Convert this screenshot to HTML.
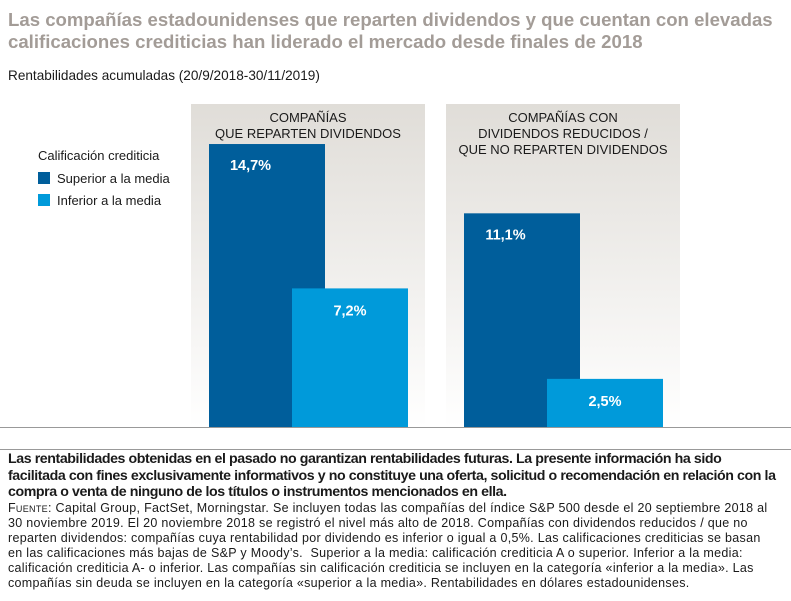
<!DOCTYPE html>
<html><head><meta charset="utf-8"><style>
body{margin:0;width:791px;height:601px;background:#fff;overflow:hidden;font-family:"Liberation Sans",sans-serif}
svg{position:absolute;left:0;top:0}
.foot{position:absolute;left:8px;top:451px;width:783px;color:#1a1a1a}
.disc{font-size:14.2px;line-height:16.5px;font-weight:bold;letter-spacing:-0.42px;white-space:nowrap}
.src{font-size:12.5px;line-height:15.1px;letter-spacing:0.3px;white-space:nowrap}
.sc{font-variant:small-caps}
</style></head><body>
<svg width="791" height="601" xmlns="http://www.w3.org/2000/svg">
<defs><linearGradient id="bg" x1="0" y1="0" x2="0" y2="1"><stop offset="0" stop-color="#e0ddd8"/><stop offset="1" stop-color="#ffffff"/></linearGradient></defs>
<g font-weight="bold" font-size="18.6" fill="#a39c97">
<text x="8" y="26">Las compañías estadounidenses que reparten dividendos y que cuentan con elevadas</text>
<text x="8" y="48">calificaciones crediticias han liderado el mercado desde finales de 2018</text></g>
<text x="8" y="80" font-size="13.6" fill="#1a1a1a">Rentabilidades acumuladas (20/9/2018-30/11/2019)</text>
<g id="panels"></g>
<g id="bars"></g>
<line x1="0" y1="427.5" x2="791" y2="427.5" stroke="#999" stroke-width="1"/>
<line x1="0" y1="449.5" x2="791" y2="449.5" stroke="#999" stroke-width="1"/>
<g font-size="13" fill="#1a1a1a">
<text x="38" y="160">Calificación crediticia</text>
<rect x="38" y="172" width="12" height="12" fill="#005e9b"/>
<text x="57" y="183">Superior a la media</text>
<rect x="38" y="194" width="12" height="12" fill="#009ada"/>
<text x="57" y="205">Inferior a la media</text></g>
</svg>
<div class="foot">
<div class="disc">Las rentabilidades obtenidas en el pasado no garantizan rentabilidades futuras. La presente información ha sido<br>facilitada con fines exclusivamente informativos y no constituye una oferta, solicitud o recomendación en relación con la<br>compra o venta de ninguno de los títulos o instrumentos mencionados en ella.</div>
<div class="src"><span class="sc">Fuente</span>: Capital Group, FactSet, Morningstar. Se incluyen todas las compañías del índice S&amp;P 500 desde el 20 septiembre 2018 al<br>30 noviembre 2019. El 20 noviembre 2018 se registró el nivel más alto de 2018. Compañías con dividendos reducidos / que no<br>reparten dividendos: compañías cuya rentabilidad por dividendo es inferior o igual a 0,5%. Las calificaciones crediticias se basan<br>en las calificaciones más bajas de S&amp;P y Moody’s.&nbsp; Superior a la media: calificación crediticia A o superior. Inferior a la media:<br>calificación crediticia A- o inferior. Las compañías sin calificación crediticia se incluyen en la categoría «inferior a la media». Las<br>compañías sin deuda se incluyen en la categoría «superior a la media». Rentabilidades en dólares estadounidenses.</div>
</div>
<script>
const categories=[["COMPAÑÍAS","QUE REPARTEN DIVIDENDOS"],["COMPAÑÍAS CON","DIVIDENDOS REDUCIDOS /","QUE NO REPARTEN DIVIDENDOS"]];
const superior=[14.7,11.1];
const inferior=[7.2,2.5];
const labelsSup=["14,7%","11,1%"];
const labelsInf=["7,2%","2,5%"];
const NS="http://www.w3.org/2000/svg";
const base=427, scale=19.25;
const y=v=>base-v*scale;
const panelX=i=>191+i*255;
function mk(t,a,p){const e=document.createElementNS(NS,t);for(const k in a)e.setAttribute(k,a[k]);p.appendChild(e);return e;}
const P=document.getElementById('panels'),B=document.getElementById('bars');
categories.forEach((c,i)=>{
 const r=mk('rect',{x:panelX(i),y:104,width:234,height:323,fill:'url(#bg)'},P);
 
 
 c.forEach((ln,j)=>{const t=mk('text',{x:panelX(i)+117,y:122+j*16,'text-anchor':'middle','font-size':'13',fill:'#1a1a1a'},P);t.textContent=ln;
 
 });
 const x1=panelX(i)+18, x2=panelX(i)+101, w=116;
 const b1=mk('rect',{x:x1,y:y(superior[i]),width:w,height:base-y(superior[i]),fill:'#005e9b'},B);
 
 
 const b2=mk('rect',{x:x2,y:y(inferior[i]),width:w,height:base-y(inferior[i]),fill:'#009ada'},B);
 
 
 const t1=mk('text',{x:x1+(x2-x1)/2,y:y(superior[i])+26,'text-anchor':'middle','font-size':'14.5','font-weight':'bold',fill:'#fff'},B);t1.textContent=labelsSup[i];
 
 
 const t2=mk('text',{x:x2+w/2,y:y(inferior[i])+27,'text-anchor':'middle','font-size':'14.5','font-weight':'bold',fill:'#fff'},B);t2.textContent=labelsInf[i];
 
 
});
</script>
</body></html>
